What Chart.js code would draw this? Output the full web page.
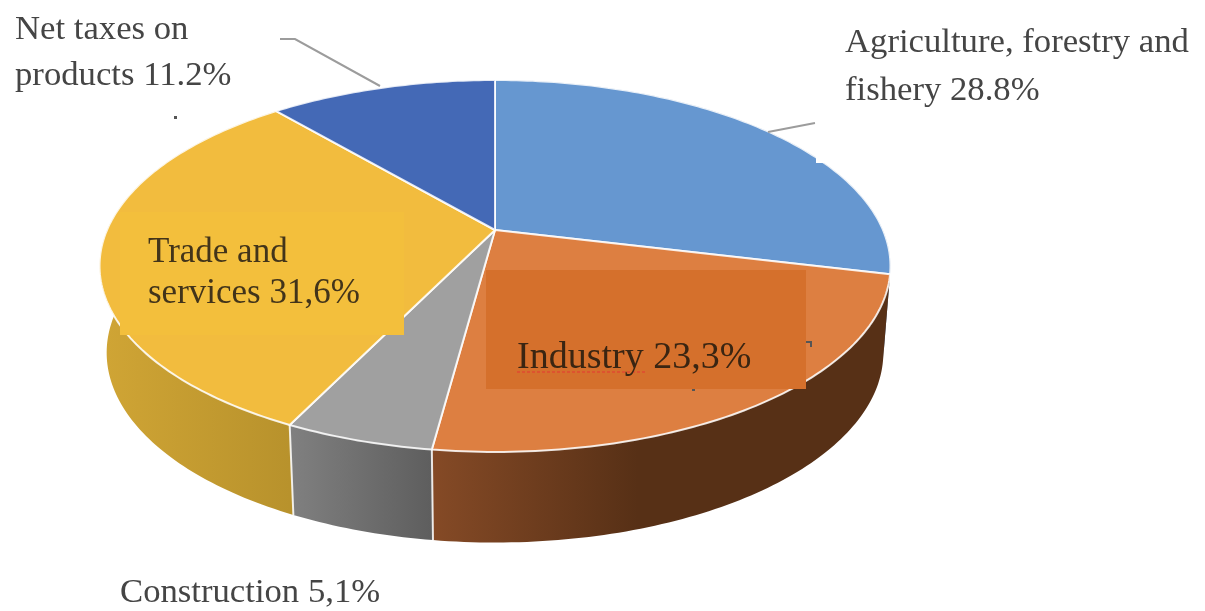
<!DOCTYPE html>
<html>
<head>
<meta charset="utf-8">
<title>GDP structure</title>
<script src="https://cdn.jsdelivr.net/npm/chart.js@4"></script>
<style>
  html, body { margin: 0; padding: 0; background: #fff; }
  canvas { display: block; filter: blur(0.6px); }
</style>
</head>
<body>
<canvas id="pie" width="1205" height="611"></canvas>
<script>
/* values, clockwise from 12 o'clock */
const categories = ['Agriculture, forestry and fishery', 'Industry', 'Construction', 'Trade and services', 'Net taxes on products'];
const shares     = [28.8, 23.3, 5.1, 31.6, 11.2];
const faceColors = ['#6697d0', '#dd7f41', '#a0a0a0', '#f2bc3e', '#4469b6'];
const wallLeft   = ['#4f78a8', '#854a26', '#808080', '#d0a535', '#33508c'];
const wallRight  = ['#3d5f88', '#573016', '#5e5e5e', '#b8922c', '#2a4274'];
const labelLines = [
  ['Agriculture, forestry and', 'fishery 28.8%'],
  ['Industry 23,3%'],
  ['Construction 5,1%'],
  ['Trade and', 'services 31,6%'],
  ['Net taxes on', 'products 11.2%'],
];

/* ── Perspective of the disc: k bends the circle, hub sits above the ellipse centre ── */
const CX = 495, K = 0.1935;
const TOP = { a: 388, b: 179, y: 230 };
const BOT = { a: 381, b: 182.7, y: 316 };

function rim(angle, p) {
  const t = angle + Math.PI / 2;       // 0 = top, clockwise
  const w = 1 + K * Math.cos(t);
  return { x: CX + p.a * Math.sin(t) / w, y: p.y - p.b * Math.cos(t) / w };
}

function rimPoints(from, to, p) {
  const n = Math.max(4, Math.ceil(Math.abs(to - from) * 60));
  const pts = [];
  for (let i = 0; i <= n; i++) pts.push(rim(from + (to - from) * i / n, p));
  return pts;
}

function traceRim(ctx, from, to, p) {
  rimPoints(from, to, p).forEach(q => ctx.lineTo(q.x, q.y));
}

/* ── Arc element: same angles from the pie controller, drawn on the tilted disc ── */
class TiltedArc extends Chart.ArcElement {
  draw(ctx) {
    const { startAngle, endAngle } = this.getProps(['startAngle', 'endAngle']);
    ctx.save();
    ctx.beginPath();
    ctx.moveTo(CX, TOP.y);
    traceRim(ctx, startAngle, endAngle, TOP);
    ctx.closePath();
    ctx.fillStyle = this.options.backgroundColor;
    ctx.fill();
    ctx.lineWidth = this.options.borderWidth;
    ctx.strokeStyle = this.options.borderColor;
    ctx.lineJoin = 'round';
    ctx.stroke();
    ctx.restore();
  }
}
TiltedArc.id = 'tiltedArc';

class TiltedPie extends Chart.PieController {}
TiltedPie.id = 'tiltedPie';
TiltedPie.defaults = { dataElementType: 'tiltedArc' };

Chart.register(TiltedArc, TiltedPie);

/* ── Side walls go under the faces ── */
const walls = {
  id: 'walls',
  beforeDatasetsDraw(chart) {
    const ctx = chart.ctx;
    chart.getDatasetMeta(0).data.forEach((arc, i) => {
      const from = arc.startAngle, to = arc.endAngle;
      if (Math.cos(from + Math.PI / 2) > 0 && Math.cos(to + Math.PI / 2) > 0) return; // back side only
      const xs = rimPoints(from, to, TOP).map(q => q.x);
      const g = ctx.createLinearGradient(Math.min(...xs), 0, Math.max(...xs), 0);
      g.addColorStop(0, wallLeft[i]);
      g.addColorStop(i === 1 ? 0.45 : 1, wallRight[i]);   // the brown one goes dark early
      ctx.save();
      ctx.beginPath();
      const s = rim(from, TOP);
      ctx.moveTo(s.x, s.y);
      traceRim(ctx, from, to, TOP);
      traceRim(ctx, to, from, BOT);
      ctx.closePath();
      ctx.fillStyle = g;
      ctx.fill();
      ctx.restore();
    });
    /* white seams where the front slices meet */
    ctx.save();
    ctx.strokeStyle = 'rgba(255,255,255,0.85)';
    ctx.lineWidth = 2;
    ctx.beginPath();
    chart.getDatasetMeta(0).data.slice(1, 3).forEach(arc => {
      const e = rim(arc.endAngle, TOP), f = rim(arc.endAngle, BOT);
      ctx.moveTo(e.x, e.y); ctx.lineTo(f.x, f.y);
    });
    ctx.stroke();
    ctx.restore();
  },
};

/* ── Pasted patches, leader lines and the labels ── */
const labelPos = [
  { x: 845, y: [52, 100],  size: 34.7, color: '#454545' },
  { x: 517, y: [368],      size: 38,   color: '#3a2512' },
  { x: 120, y: [602],      size: 34.7, color: '#454545' },
  { x: 148, y: [262, 303], size: 35,   color: '#42341a' },
  { x: 15,  y: [39, 85],   size: 34.7, color: '#454545' },
];

const annotations = {
  id: 'annotations',
  afterDatasetsDraw(chart) {
    const ctx = chart.ctx;
    ctx.save();

    ctx.fillStyle = '#f3bf3c';
    ctx.fillRect(120, 212, 284, 123);
    ctx.fillStyle = '#d5702c';
    ctx.fillRect(486, 270, 320, 119);

    ctx.fillStyle = '#fff';
    ctx.fillRect(816, 155, 8, 8);

    ctx.strokeStyle = '#9c9c9c';
    ctx.lineWidth = 2;
    ctx.beginPath();
    ctx.moveTo(280, 39); ctx.lineTo(295, 39); ctx.lineTo(380, 86);
    ctx.moveTo(768, 132); ctx.lineTo(815, 123);
    ctx.stroke();

    ctx.setLineDash([3, 2]);
    ctx.strokeStyle = '#e04a30';
    ctx.lineWidth = 1.5;
    ctx.beginPath();
    ctx.moveTo(517, 372); ctx.lineTo(647, 372);
    ctx.stroke();
    ctx.setLineDash([]);

    ctx.fillStyle = '#555';
    ctx.fillRect(174, 116, 3, 3);
    ctx.fillRect(806, 341, 6, 2);
    ctx.fillRect(810, 343, 2, 4);
    ctx.fillRect(692, 389, 3, 2);

    ctx.textBaseline = 'alphabetic';
    labelLines.forEach((lines, i) => {
      ctx.font = labelPos[i].size + 'px "Liberation Serif"';
      ctx.fillStyle = labelPos[i].color;
      lines.forEach((t, j) => ctx.fillText(t, labelPos[i].x, labelPos[i].y[j]));
    });
    ctx.restore();
  },
};

new Chart(document.getElementById('pie'), {
  type: 'tiltedPie',
  data: {
    labels: categories,
    datasets: [{
      data: shares,
      backgroundColor: faceColors,
      borderColor: 'rgba(255,255,255,0.85)',
      borderWidth: 2,
    }],
  },
  options: {
    responsive: false,
    animation: false,
    plugins: { legend: { display: false }, tooltip: { enabled: false } },
  },
  plugins: [walls, annotations],
});
</script>
</body>
</html>
